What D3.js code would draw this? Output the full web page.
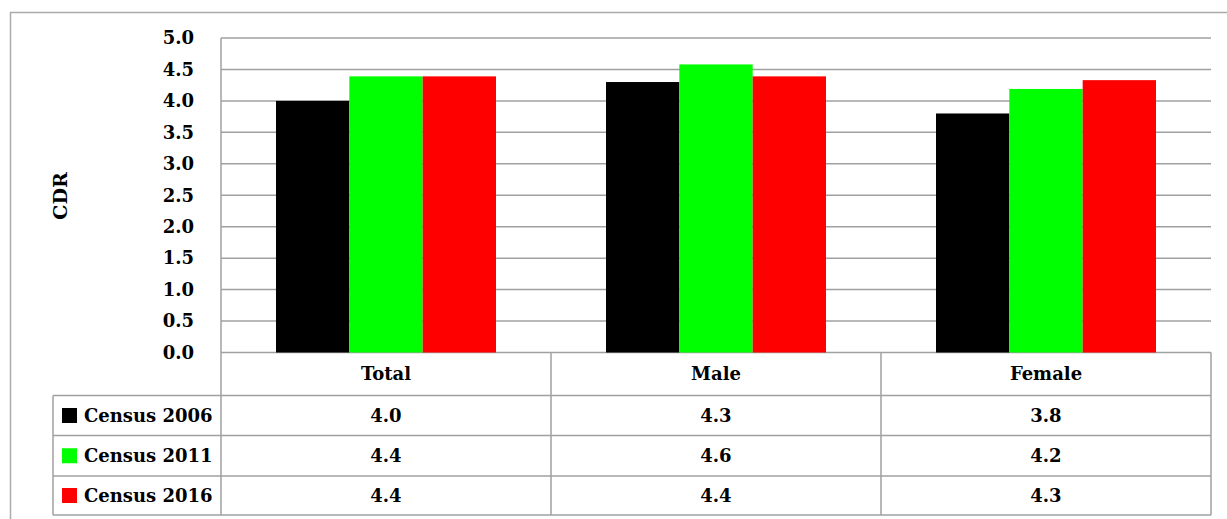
<!DOCTYPE html>
<html>
<head>
<meta charset="utf-8">
<script src="https://cdn.jsdelivr.net/npm/d3@7"></script>
<style>
  html, body { margin: 0; padding: 0; background: #fff; }
  svg text { font-family: "DejaVu Serif", "Liberation Serif", serif; font-weight: bold; fill: #000; }
</style>
</head>
<body>
<svg id="chart" width="1227" height="519"></svg>
<script>
const categories = ["Total", "Male", "Female"];
const seriesNames = ["Census 2006", "Census 2011", "Census 2016"];
const census2006 = [4.0, 4.3, 3.8];
const census2011 = [4.39, 4.58, 4.19];
const census2016 = [4.39, 4.39, 4.33];
const tableLabels2006 = ["4.0", "4.3", "3.8"];
const tableLabels2011 = ["4.4", "4.6", "4.2"];
const tableLabels2016 = ["4.4", "4.4", "4.3"];
const yTicks = [0, 0.5, 1, 1.5, 2, 2.5, 3, 3.5, 4, 4.5, 5];
const colors = ["#000000", "#00ff00", "#ff0000"];

const seriesValues = [census2006, census2011, census2016];
const tableLabels = [tableLabels2006, tableLabels2011, tableLabels2016];

const svg = d3.select("#chart");
const gridColor = "#a0a0a0";

const plotLeft = 221, plotRight = 1211, plotTop = 38, plotBottom = 352.5;
const headerBottom = 395.5;
const rowBottoms = [435.5, 476, 515];
const legendLeft = 53;
const fontSize = 18;

// outer border
svg.append("path")
  .attr("d", `M10.5,525 V12.5 H1235`)
  .attr("fill", "none").attr("stroke", "#aaaaaa").attr("stroke-width", 1.5);

const x = d3.scaleBand().domain(categories).range([plotLeft, plotRight])
  .paddingInner(1/3).paddingOuter(1/6);
const xs = d3.scaleBand().domain(seriesNames).range([0, x.bandwidth()]).padding(0);
const y = d3.scaleLinear().domain([0, 5]).range([plotBottom, plotTop]);
const xc = d3.scaleBand().domain(categories).range([plotLeft, plotRight]);

// gridlines
svg.append("g").selectAll("line").data(yTicks).join("line")
  .attr("x1", plotLeft).attr("x2", plotRight)
  .attr("y1", d => y(d)).attr("y2", d => y(d))
  .attr("stroke", gridColor).attr("stroke-width", 1.5);

// y axis labels
const yAxis = d3.axisLeft(y).tickValues(yTicks).tickFormat(d3.format(".1f")).tickSize(0).tickPadding(0);
const yg = svg.append("g").attr("transform", `translate(194,0)`).call(yAxis);
yg.select(".domain").remove();
yg.selectAll("text").attr("font-size", fontSize).attr("fill", "#000")
  .style("font-family", "DejaVu Serif").style("font-weight", "bold");

// y title
svg.append("text").attr("transform", "translate(67,196) rotate(-90)")
  .attr("text-anchor", "middle").attr("font-size", 19).text("CDR");

// bars
categories.forEach((cat, ci) => {
  seriesNames.forEach((s, si) => {
    svg.append("rect")
      .attr("x", x(cat) + xs(s))
      .attr("width", xs.bandwidth())
      .attr("y", y(seriesValues[si][ci]))
      .attr("height", y(0) - y(seriesValues[si][ci]))
      .attr("fill", colors[si]);
  });
});

// table lines
const tl = svg.append("g").attr("stroke", gridColor).attr("stroke-width", 1.5).attr("fill", "none");
tl.append("line").attr("x1", plotLeft).attr("x2", plotLeft).attr("y1", plotTop).attr("y2", rowBottoms[2]);
tl.append("line").attr("x1", plotRight).attr("x2", plotRight).attr("y1", plotBottom).attr("y2", rowBottoms[2]);
categories.slice(1).forEach(c => {
  tl.append("line").attr("x1", xc(c)).attr("x2", xc(c)).attr("y1", plotBottom).attr("y2", rowBottoms[2]);
});
[headerBottom, ...rowBottoms].forEach(yy => {
  tl.append("line").attr("x1", legendLeft).attr("x2", plotRight).attr("y1", yy).attr("y2", yy);
});
tl.append("line").attr("x1", legendLeft).attr("x2", legendLeft).attr("y1", headerBottom).attr("y2", rowBottoms[2]);

// category header labels
svg.append("g").selectAll("text").data(categories).join("text")
  .attr("x", d => xc(d) + xc.bandwidth() / 2)
  .attr("y", (plotBottom + headerBottom) / 2)
  .attr("dy", "0.36em")
  .attr("text-anchor", "middle").attr("font-size", fontSize)
  .text(d => d);

// rows
const rowTops = [headerBottom, rowBottoms[0], rowBottoms[1]];
seriesNames.forEach((s, si) => {
  const cy = (rowTops[si] + rowBottoms[si]) / 2;
  svg.append("rect").attr("x", 62).attr("y", cy - 7.5).attr("width", 15).attr("height", 15)
    .attr("fill", colors[si]);
  svg.append("text").attr("x", 84).attr("y", cy).attr("dy", "0.36em")
    .attr("font-size", fontSize).text(s);
  categories.forEach((c, ci) => {
    svg.append("text")
      .attr("x", xc(c) + xc.bandwidth() / 2)
      .attr("y", cy).attr("dy", "0.36em")
      .attr("text-anchor", "middle").attr("font-size", fontSize)
      .text(tableLabels[si][ci]);
  });
});
</script>
</body>
</html>
